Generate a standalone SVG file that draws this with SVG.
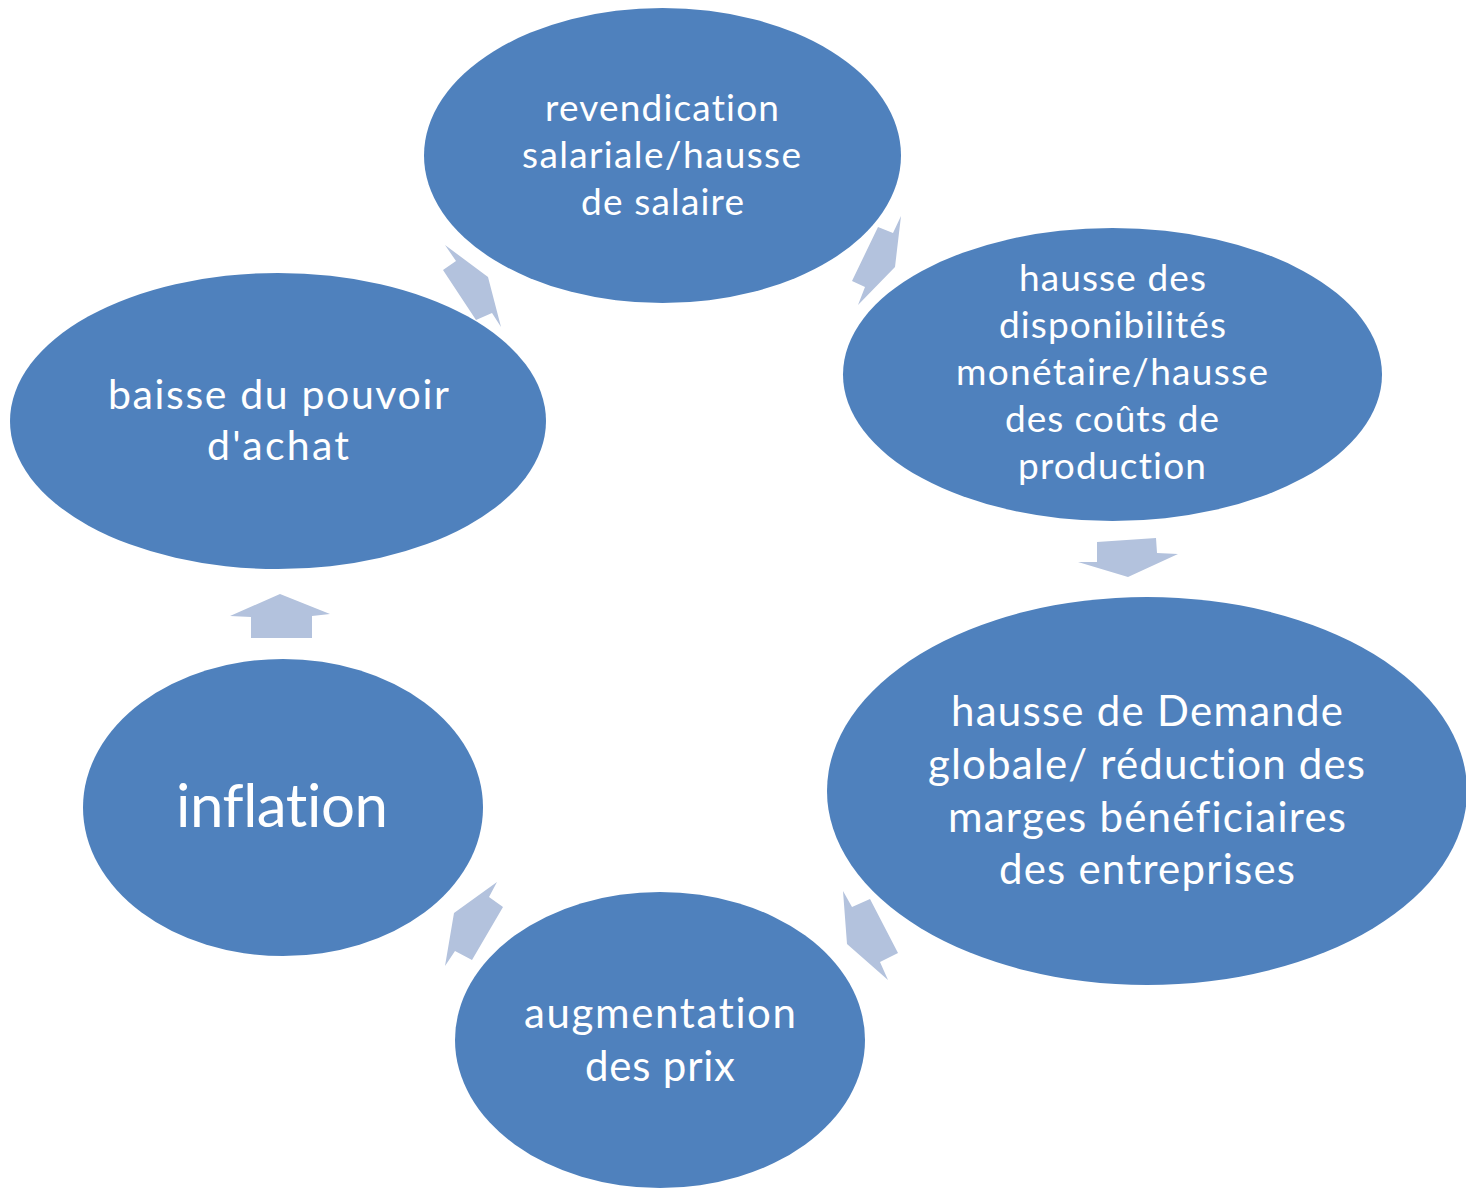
<svg xmlns="http://www.w3.org/2000/svg" width="1466" height="1190" viewBox="0 0 1466 1190">
  <style>
    .node { fill: #4F81BD; }
    .arrow { fill: #B3C2DD; }
    .lbl { fill: #FFFFFF; font-family: Lato, "Open Sans", "Liberation Sans", sans-serif; font-variant-ligatures: none; }
  </style>
  <rect width="1466" height="1190" fill="#FFFFFF"/>

  <!-- cycle arrows between the nodes -->
  <g id="connectors">
    <polygon class="arrow" points="445,245 456,261 443,270 476,320 492,313 501,327 488,277"/>
    <polygon class="arrow" points="901,216 893,233 878,227 852,281 865,287 858,305 895,267"/>
    <polygon class="arrow" points="1097,542 1156,538 1157,553 1178,554 1128,577 1078,562 1097,562"/>
    <polygon class="arrow" points="843,891 852,907 870,899 898,953 880,962 888,980 847,944"/>
    <polygon class="arrow" points="497,882 489,897 503,907 472,960 455,951 445,966 454,913"/>
    <polygon class="arrow" points="280,594 330,614 312,616 312,638 251,638 251,617 230,616"/>
  </g>

  <g id="revendication">
    <ellipse class="node" cx="662.5" cy="155.5" rx="238.5" ry="147.5"/>
    <text class="lbl" font-size="37">
      <tspan x="545" y="121" textLength="234">revendication</tspan>
      <tspan x="522" y="168" textLength="279">salariale/hausse</tspan>
      <tspan x="581" y="215" textLength="163">de salaire</tspan>
    </text>
  </g>

  <g id="disponibilites">
    <ellipse class="node" cx="1112.5" cy="374.5" rx="269.5" ry="146.5"/>
    <text class="lbl" font-size="37">
      <tspan x="1019" y="291" textLength="187">hausse des</tspan>
      <tspan x="999" y="338" textLength="227">disponibilités</tspan>
      <tspan x="956" y="385" textLength="312">monétaire/hausse</tspan>
      <tspan x="1005" y="432" textLength="214">des coûts de</tspan>
      <tspan x="1018" y="479" textLength="188">production</tspan>
    </text>
  </g>

  <g id="demande">
    <ellipse class="node" cx="1147" cy="791" rx="320" ry="194"/>
    <text class="lbl" font-size="42">
      <tspan x="951" y="726" textLength="392">hausse de Demande</tspan>
      <tspan x="928" y="779" textLength="437">globale/ réduction des</tspan>
      <tspan x="948" y="832" textLength="398">marges bénéficiaires</tspan>
      <tspan x="999" y="884" textLength="296">des entreprises</tspan>
    </text>
  </g>

  <g id="augmentation">
    <ellipse class="node" cx="660" cy="1040" rx="205" ry="148"/>
    <text class="lbl" font-size="42">
      <tspan x="524" y="1028" textLength="272">augmentation</tspan>
      <tspan x="585" y="1081" textLength="150">des prix</tspan>
    </text>
  </g>

  <g id="inflation">
    <ellipse class="node" cx="283" cy="807.5" rx="200" ry="148.5"/>
    <text class="lbl" font-size="60">
      <tspan x="176" y="827" textLength="212">inflation</tspan>
    </text>
  </g>

  <g id="pouvoir-achat">
    <ellipse class="node" cx="278" cy="421" rx="268" ry="148"/>
    <text class="lbl" font-size="41">
      <tspan x="108" y="409" textLength="340">baisse du pouvoir</tspan>
      <tspan x="207" y="460" textLength="142">d'achat</tspan>
    </text>
  </g>
</svg>
